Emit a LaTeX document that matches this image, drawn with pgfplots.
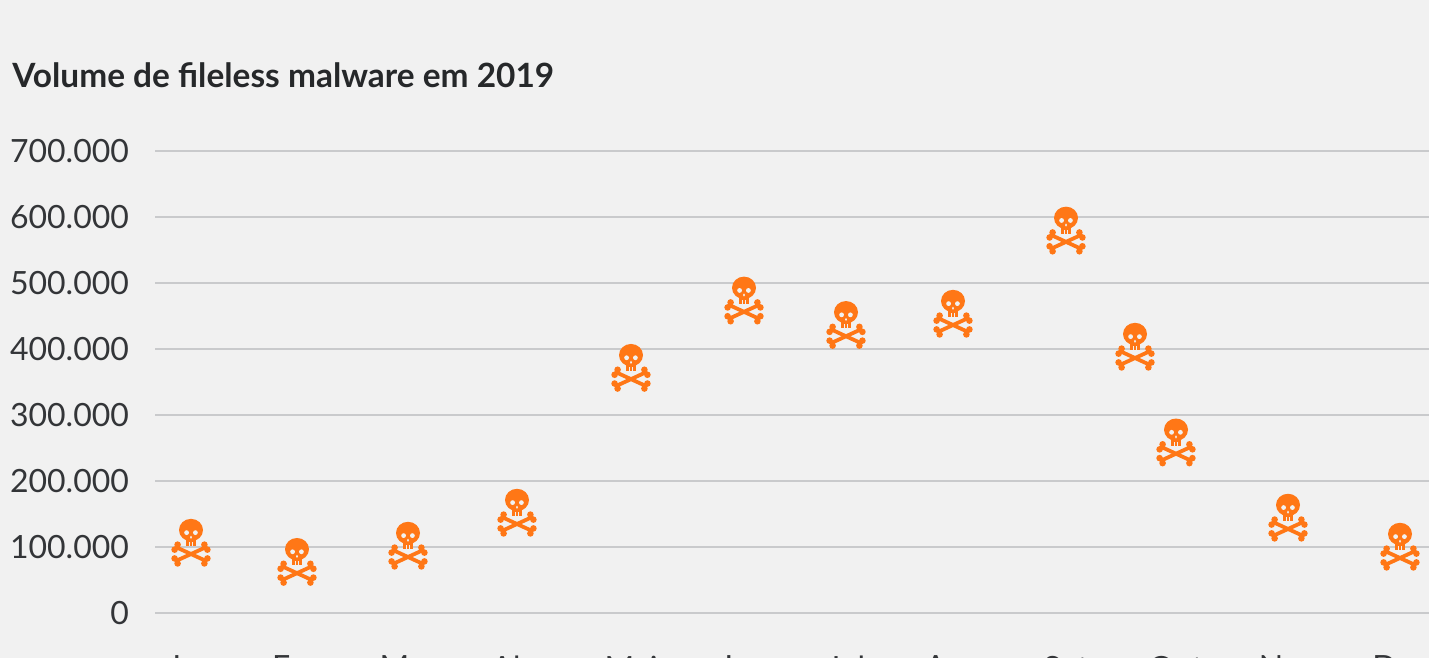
\documentclass[border=0pt]{standalone}
\usepackage{pgfplots}
\pgfplotsset{compat=1.18}
\usepackage{fontspec}
\setmainfont{Lato}
\definecolor{bgc}{HTML}{F1F1F1}
\definecolor{grd}{HTML}{C9CACC}
\definecolor{txt}{HTML}{333538}
\definecolor{ttl}{HTML}{26282A}
\definecolor{org}{HTML}{FF7716}
\pgfdeclareplotmark{skull}{%
  \pgfsetfillcolor{org}\pgfsetstrokecolor{org}%
  \begin{pgfscope}
  \pgfpathellipse{\pgfpoint{0pt}{6.5pt}}{\pgfpoint{6.0pt}{0pt}}{\pgfpoint{0pt}{5.6pt}}%
  \pgfusepath{fill}
  \pgfpathrectangle{\pgfpoint{-2.6pt}{-1.5pt}}{\pgfpoint{5.2pt}{4pt}}%
  \pgfusepath{fill}
  \pgfsetfillcolor{bgc}%
  \pgfpathcircle{\pgfpoint{-2.2pt}{5.2pt}}{1.2pt}%
  \pgfpathcircle{\pgfpoint{2.2pt}{5.2pt}}{1.2pt}%
  \pgfpathellipse{\pgfpoint{0pt}{2.9pt}}{\pgfpoint{0.5pt}{0pt}}{\pgfpoint{0pt}{0.8pt}}%
  \pgfusepath{fill}
  \pgfsetstrokecolor{bgc}\pgfsetlinewidth{0.35pt}%
  \pgfpathmoveto{\pgfpoint{-0.9pt}{-1.5pt}}\pgfpathlineto{\pgfpoint{-0.9pt}{0.6pt}}%
  \pgfpathmoveto{\pgfpoint{0.9pt}{-1.5pt}}\pgfpathlineto{\pgfpoint{0.9pt}{0.6pt}}%
  \pgfusepath{stroke}
  \end{pgfscope}
  \pgfsetlinewidth{1.9pt}%
  \pgfpathmoveto{\pgfpoint{-7.6pt}{-2pt}}\pgfpathlineto{\pgfpoint{7.6pt}{-9pt}}%
  \pgfusepath{stroke}
  \pgfpathmoveto{\pgfpoint{-7.6pt}{-9pt}}\pgfpathlineto{\pgfpoint{7.6pt}{-2pt}}%
  \pgfusepath{stroke}
  \foreach \sx in {-1,1}{%
    \pgfpathcircle{\pgfpoint{\sx*6.7pt}{-0.8pt}}{1.65pt}%
    \pgfpathcircle{\pgfpoint{\sx*8.2pt}{-3.3pt}}{1.65pt}%
    \pgfpathcircle{\pgfpoint{\sx*8.2pt}{-7.7pt}}{1.65pt}%
    \pgfpathcircle{\pgfpoint{\sx*6.7pt}{-10.2pt}}{1.65pt}%
    \pgfusepath{fill}
  }%
}
\begin{document}
\begin{tikzpicture}
\path[use as bounding box] (0,0) rectangle (714.5pt,329pt);
\clip (0,0) rectangle (714.5pt,329pt);
\fill[bgc] (0,0) rectangle (714.5pt,329pt);
\node[anchor=base west,inner sep=0pt,text=ttl,font=\fontsize{16.7pt}{20pt}\selectfont\bfseries] at (6pt,285pt) {Volume de fileless malware em 2019};
\begin{axis}[
  at={(77.5pt,22.5pt)},anchor=south west,
  scale only axis,width=637pt,height=231pt,
  xmin=155,xmax=1429,ymin=0,ymax=700000,
  axis line style={draw=none},
  clip=false,
  ymajorgrids,
  grid style={grd,line width=1.1pt},
  major tick length=0pt,
  ytick={0,100000,200000,300000,400000,500000,600000,700000},
  xtick={191,297,408,517,631,744,846,953,1066,1176,1288,1400},
  xticklabels={Jan,Fev,Mar,Abr,Mai,Jun,Jul,Ago,Set,Out,Nov,Dez},
  tick label style={text=txt,font=\fontsize{16pt}{18pt}\selectfont},
  /pgf/number format/fixed,
  /pgf/number format/assume math mode=true,
  /pgf/number format/1000 sep={.},
  scaled x ticks=false,scaled y ticks=false,
  yticklabel style={xshift=-9.5pt},
  xticklabel style={yshift=-18pt},
]
\addplot[only marks,mark=skull] coordinates {
(191,106000)(297,77000)(408,101500)(517,151500)(631,371000)(744,473000)(846,436000)(953,453000)(1066,579000)(1135,403000)(1176,258000)(1288,144000)(1400,100000)};
\end{axis}
\end{tikzpicture}
\end{document}
